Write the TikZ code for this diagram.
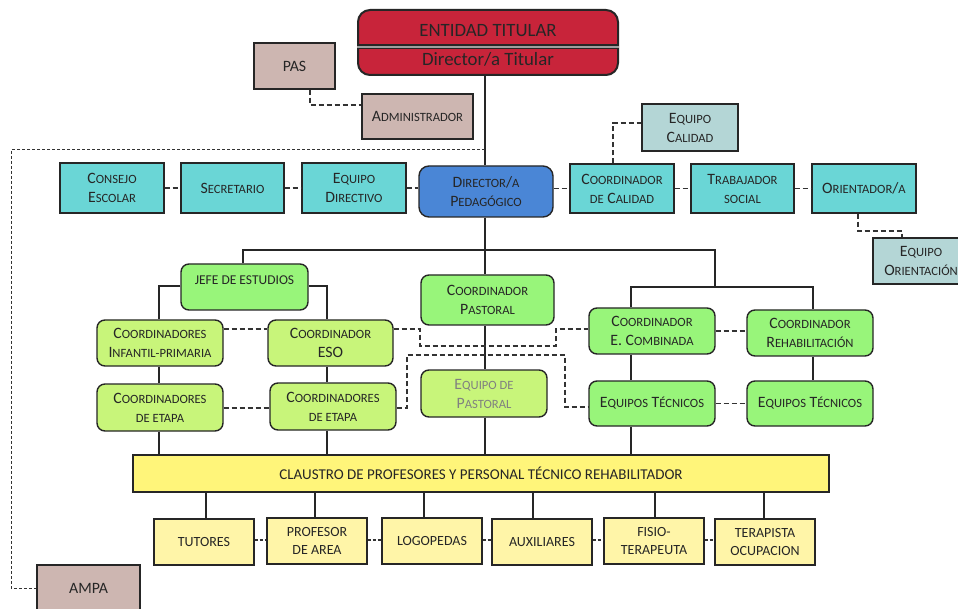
\documentclass[tikz,border=0pt]{standalone}
\usepackage{fontspec}
\setmainfont{Carlito}
\newcommand\sm[1]{{\fontsize{12.6}{19}\selectfont #1}}
\newcommand\F{\fontsize{15.8}{19}\selectfont}
\newcommand\FC{\fontsize{14}{18}\selectfont}
\definecolor{cred}{HTML}{C8243A}
\definecolor{crose}{HTML}{CDB6B1}
\definecolor{ccyan}{HTML}{6AD6D6}
\definecolor{cteal}{HTML}{B4D6D6}
\definecolor{cblue}{HTML}{4A86D6}
\definecolor{cgreen}{HTML}{98F57A}
\definecolor{cygreen}{HTML}{C8F57A}
\definecolor{cyel}{HTML}{FFF57A}
\definecolor{cpale}{HTML}{FFF5A8}
\begin{document}
\begin{tikzpicture}[x=1pt,y=-1pt,
 box/.style={draw=black!85,line width=1.4pt,align=center,inner sep=0pt,text=black!85,font=\F},
 cybox/.style={box,fill=ccyan,minimum width=104pt,minimum height=50pt},
 rosebox/.style={box,fill=crose},
 tealbox/.style={box,fill=cteal,minimum width=96pt,minimum height=47pt},
 gbox/.style={box,fill=cgreen,rounded corners=8pt,minimum width=126pt,minimum height=46pt},
 ygbox/.style={box,fill=cygreen,rounded corners=8pt,minimum width=126pt,minimum height=46pt},
 pbox/.style={box,fill=cpale,font=\FC,minimum width=100pt,minimum height=46pt},
 sol/.style={draw=black!85,line width=1.2pt},
 dsh/.style={draw=black!80,line width=1.4pt,dash pattern=on 5pt off 3pt},
 dshs/.style={draw=black!80,line width=1.2pt,dash pattern=on 3pt off 2pt}
]
\clip (0,0) rectangle (958,609);
\fill[white] (0,0) rectangle (958,609);

% top
\node[box,fill=cred,rounded corners=12pt,minimum width=260pt,minimum height=65pt,line width=2pt] (ent) at (488,42.5) {};
\coordinate (dv) at (0,47);
\draw[line width=5pt,black!85] (ent.west |- dv) -- (ent.east |- dv);
\draw[line width=2pt,gray!75] (ent.west |- dv) -- (ent.east |- dv);
\node[font=\fontsize{18.8}{20}\selectfont,text=black!85] (entT) at (488,31) {ENTIDAD TITULAR};
\node[font=\fontsize{18.8}{20}\selectfont,text=black!85] (entD) at (488,59) {Director/a Titular};
\node[rosebox,minimum width=81pt,minimum height=46pt] (pas) at (294.5,66) {PAS};
\node[rosebox,minimum width=111pt,minimum height=45pt] (adm) at (417.5,116.5) {A\sm{DMINISTRADOR}};
\node[rosebox,minimum width=103pt,minimum height=47pt] (ampa) at (88.5,588.5) {AMPA};

% row 2
\node[cybox] (consejo) at (112,188) {C\sm{ONSEJO}\\E\sm{SCOLAR}};
\node[cybox,minimum width=103pt] (secr) at (232.5,188) {S\sm{ECRETARIO}};
\node[cybox] (eqdir) at (354,188) {E\sm{QUIPO}\\D\sm{IRECTIVO}};
\node[box,fill=cblue,rounded corners=10pt,minimum width=134pt,minimum height=51pt] (dirped) at (486,191.5) {D\sm{IRECTOR}/\sm{A}\\P\sm{EDAGÓGICO}};
\node[cybox,minimum height=49pt] (coordcal) at (622,188.5) {C\sm{OORDINADOR}\\\sm{DE} C\sm{ALIDAD}};
\node[cybox,minimum width=103pt,minimum height=49pt] (trab) at (742.5,188.5) {T\sm{RABAJADOR}\\\sm{SOCIAL}};
\node[cybox,minimum height=49pt] (orient) at (864,188.5) {O\sm{RIENTADOR}/\sm{A}};
\node[tealbox] (eqcal) at (690,127.5) {E\sm{QUIPO}\\C\sm{ALIDAD}};
\node[tealbox,minimum height=46pt] (eqori) at (921,261) {E\sm{QUIPO}\\O\sm{RIENTACIÓN}};

% green
\node[gbox,minimum width=127pt] (jefe) at (244.5,287) {};
\node[font=\fontsize{13.5}{16}\selectfont,text=black!85] (jefeT) at (244.5,280) {JEFE DE ESTUDIOS};
\node[ygbox] (cinf) at (160,343) {C\sm{OORDINADORES}\\I\sm{NFANTIL-PRIMARIA}};
\node[ygbox,minimum width=125pt] (ceso) at (330.5,343) {C\sm{OORDINADOR}\\ESO};
\node[ygbox,minimum height=47pt] (cet1) at (160,407.5) {C\sm{OORDINADORES}\\\sm{DE ETAPA}};
\node[ygbox,minimum height=47pt] (cet2) at (333,406.5) {C\sm{OORDINADORES}\\\sm{DE ETAPA}};
\node[gbox,minimum width=133pt,minimum height=50pt] (cpast) at (487.5,300) {C\sm{OORDINADOR}\\P\sm{ASTORAL}};
\node[ygbox,minimum height=47pt,text=black!50] (eqpast) at (484,393.5) {E\sm{QUIPO DE}\\P\sm{ASTORAL}};
\node[gbox] (ccomb) at (652,331) {C\sm{OORDINADOR}\\E. C\sm{OMBINADA}};
\node[gbox] (crehab) at (810,333) {C\sm{OORDINADOR}\\R\sm{EHABILITACIÓN}};
\node[gbox,minimum height=45pt] (eqt1) at (652,403.5) {E\sm{QUIPOS} T\sm{ÉCNICOS}};
\node[gbox,minimum height=45pt] (eqt2) at (810,403.5) {E\sm{QUIPOS} T\sm{ÉCNICOS}};

% yellow
\node[box,fill=cyel,font=\fontsize{15}{18}\selectfont,minimum width=696pt,minimum height=37pt] (claus) at (481,473.5) {CLAUSTRO DE PROFESORES Y PERSONAL TÉCNICO REHABILITADOR};
\node[pbox] (tut) at (204,542) {TUTORES};
\node[pbox] (prof) at (317,541) {PROFESOR\\DE AREA};
\node[pbox] (logo) at (432,541) {LOGOPEDAS};
\node[pbox] (aux) at (542,542) {AUXILIARES};
\node[pbox] (fisio) at (654,541) {FISIO-\\TERAPEUTA};
\node[pbox] (terap) at (765,542) {TERAPISTA\\OCUPACION};

% solid connectors
\coordinate (xT) at (485,0);
\draw[sol] (ent.south -| xT) -- (dirped.north -| xT);
\draw[sol] (dirped.south -| xT) -- (cpast.north -| xT);
\coordinate (hL) at (243,250);
\coordinate (hR) at (715,250);
\coordinate (rL) at (631,287);
\coordinate (rR) at (813,287);
\draw[sol] (jefe.north -| hL) -- (hL) -- (hR) -- (hR |- rL);
\draw[sol] (ccomb.north -| rL) -- (rL) -- (rR) -- (crehab.north -| rR);
\coordinate (jl) at (159,286);
\coordinate (jr) at (327,286);
\draw[sol] (jefe.west |- jl) -- (jl) -- (cinf.north -| jl);
\draw[sol] (jefe.east |- jr) -- (jr) -- (ceso.north -| jr);
\draw[sol] (cinf.south -| jl) -- (cet1.north -| jl);
\draw[sol] (ceso.south -| jr) -- (cet2.north -| jr);
\draw[sol] (cet1.south -| jl) -- (claus.north -| jl);
\draw[sol] (cet2.south -| jr) -- (claus.north -| jr);
\draw[sol] (cpast.south -| xT) -- (eqpast.north -| xT);
\draw[sol] (eqpast.south -| xT) -- (claus.north -| xT);
\draw[sol] (ccomb.south -| rL) -- (eqt1.north -| rL);
\draw[sol] (eqt1.south -| rL) -- (claus.north -| rL);
\draw[sol] (crehab.south -| rR) -- (eqt2.north -| rR);
\foreach \n/\x in {tut/206,prof/315,logo/424,aux/533,fisio/655,terap/764}{
  \coordinate (b\n) at (\x,0);
  \draw[sol] (claus.south -| b\n) -- (\n.north -| b\n);
}

% dashed connectors
\coordinate (pd) at (310,105);
\draw[dsh] (pas.south -| pd) -- (pd) -- (adm.west |- pd);
\coordinate (a1) at (485,150);
\coordinate (a2) at (11,150);
\coordinate (a3) at (11,588);
\draw[dshs,line width=1pt] (a1) -- (a2) -- (a3) -- (ampa.west |- a3);
\draw[dsh] (consejo.east) -- (secr.west |- consejo.east);
\draw[dsh] (secr.east) -- (eqdir.west |- secr.east);
\draw[dsh] (eqdir.east) -- (dirped.west |- eqdir.east);
\draw[dsh] (dirped.east |- coordcal.west) -- (coordcal.west);
\draw[dsh] (coordcal.east) -- (trab.west |- coordcal.east);
\draw[dsh] (trab.east) -- (orient.west |- trab.east);
\coordinate (qc) at (613,123);
\draw[dsh] (coordcal.north -| qc) -- (qc) -- (eqcal.west |- qc);
\coordinate (o1) at (858,231);
\coordinate (o2) at (902,231);
\draw[dsh] (orient.south -| o1) -- (o1) -- (o2) -- (eqori.north -| o2);
\coordinate (m1) at (0,329);
\draw[dsh] (cinf.east |- m1) -- (ceso.west |- m1);
\coordinate (p1) at (420,329);
\coordinate (p2) at (420,346);
\coordinate (p3) at (556,346);
\coordinate (p4) at (556,329);
\draw[dsh] (ceso.east |- p1) -- (p1) -- (p2) -- (p3) -- (p4) -- (ccomb.west |- p4);
\coordinate (q1) at (407,408);
\coordinate (q2) at (407,355);
\coordinate (q3) at (565,355);
\coordinate (q4) at (565,407);
\draw[dsh] (cet2.east |- q1) -- (q1) -- (q2) -- (q3) -- (q4) -- (eqt1.west |- q4);
\draw[dsh] (cet1.east |- q1) -- (cet2.west |- q1);
\draw[dsh] (ccomb.east) -- (crehab.west |- ccomb.east);
\draw[dsh] (eqt1.east) -- (eqt2.west |- eqt1.east);
\coordinate (bb) at (0,540);
\draw[dshs] (tut.east |- bb) -- (prof.west |- bb);
\draw[dshs] (prof.east |- bb) -- (logo.west |- bb);
\draw[dshs] (logo.east |- bb) -- (aux.west |- bb);
\draw[dshs] (aux.east |- bb) -- (fisio.west |- bb);
\draw[dshs] (fisio.east |- bb) -- (terap.west |- bb);
\end{tikzpicture}
\end{document}
